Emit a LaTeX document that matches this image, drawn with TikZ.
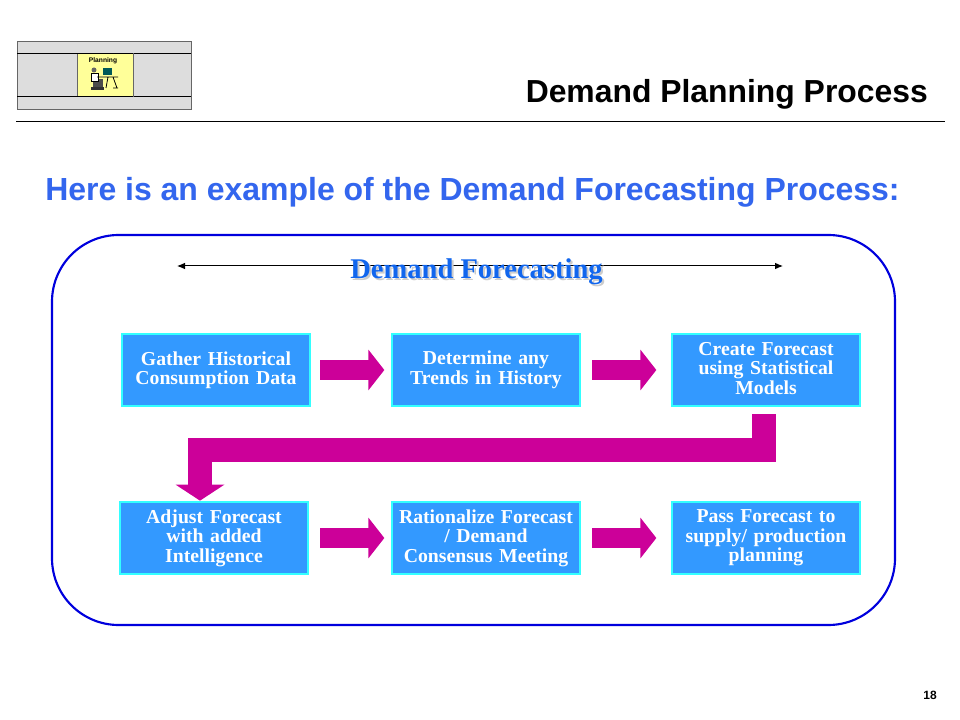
\documentclass[tikz,border=0pt]{standalone}
\usepackage{fontspec}
\setmainfont{Liberation Serif}
\setsansfont{Liberation Sans}
\usetikzlibrary{arrows.meta}
\definecolor{boxblue}{HTML}{3399FF}
\definecolor{boxcyan}{HTML}{33FFFF}
\definecolor{flowpink}{HTML}{CC0099}
\definecolor{headblue}{HTML}{3366EE}
\definecolor{spanblue}{HTML}{1166EE}
\definecolor{frameblue}{HTML}{0000DD}
\definecolor{panelgray}{HTML}{DDDDDD}
\definecolor{iconyellow}{HTML}{FFFF99}
\begin{document}
\begin{tikzpicture}[x=0.75pt,y=-0.75pt,
stepbox/.style={shape=rectangle,draw=boxcyan,fill=boxblue,line width=1.5pt,text=white,font=\fontsize{14.8}{14.6}\selectfont\bfseries,align=center,inner sep=0pt,minimum width=141pt,minimum height=54.5pt,text width=137pt},
flow/.style={draw=flowpink,line width=15pt,-{Triangle[length=12pt,width=30pt]}},
flowbig/.style={draw=flowpink,line width=18pt,miter limit=10,-{Triangle[length=12pt,width=36pt]}},
title/.style={font=\sffamily\bfseries\fontsize{23.9}{26}\selectfont,inner sep=0pt,anchor=base west},
panel/.style={draw=black!60,fill=panelgray,line width=0.7pt},
spanlabel/.style={font=\fontsize{21.4}{24}\selectfont\bfseries,inner sep=0pt}]
\def\rowa{370};
\def\rowb{538};
\def\cola{216};
\def\colb{486};
\def\colc{766};

\useasboundingbox (0,0) rectangle (960,720);
\fill[white] (0,0) rectangle (960,720);

\draw[panel] (17,41) rectangle (191,109);
\draw[line width=0.6pt] (17,53) -- (191,53);
\draw[line width=0.6pt] (17,96) -- (191,96);
\draw[draw=black!60,fill=iconyellow,line width=0.7pt] (77,53) rectangle (133,96);
\draw[line width=0.6pt] (77,53) -- (133,53) (77,96) -- (133,96);
\node[inner sep=0pt,font=\sffamily\bfseries\fontsize{5}{6}\selectfont] (icontext) at (103,60.5) {Planning};
\fill[black!70] (93,79) rectangle (103,89);
\fill[black!80] (91,87) -- (104,87) -- (104,90) -- (91,90) -- cycle;
\draw[black,fill=white,line width=0.4pt] (91,73) rectangle (98,81);
\fill[black!60] (94,70) circle (2.5);
\fill[teal!70!black] (103,68) rectangle (112,75);
\draw[black,line width=0.6pt] (97,77) -- (118,77) (113,77) -- (117,88) (113,88) -- (118,88) (108,77) -- (106,88);

\node[title] (pagetitle) at (525.5,103) {Demand Planning Process};
\coordinate (rulea) at (16,121.5);
\coordinate (ruleb) at (945,121.5);
\draw[line width=0.75pt] (rulea) -- (ruleb);
\node[title,text=headblue,font=\sffamily\bfseries\fontsize{23.97}{26}\selectfont] (subtitle) at (45,201) {Here is an example of the Demand Forecasting Process:};

\draw[frameblue,line width=1.6pt,rounded corners=50pt] (52,235) rectangle (895,625);

\coordinate (spanl) at (177,266);
\coordinate (spanr) at (783,266);
\draw[{Latex[length=6pt,width=5pt]}-{Latex[length=6pt,width=5pt]},line width=0.75pt] (spanl) -- (spanr);
\node[spanlabel,text=black!20] (spanshadow) at (478.5,274) {Demand Forecasting};
\node[spanlabel,text=spanblue] (spantext) at (476.5,272) {Demand Forecasting};

\node[stepbox] (gather) at (\cola,\rowa) {Gather Historical\\Consumption Data};
\node[stepbox] (trends) at (\colb,\rowa) {Determine any\\Trends in History};
\node[stepbox] (create) at (\colc,\rowa) {Create Forecast\\using Statistical\\Models\rule[-3pt]{0pt}{3pt}};
\node[stepbox] (adjust) at (214,\rowb) {Adjust Forecast\\with added\\Intelligence};
\node[stepbox] (ration) at (\colb,\rowb) {Rationalize Forecast\\/ Demand\\Consensus Meeting};
\node[stepbox] (pass) at (\colc,\rowb) {Pass Forecast to\\supply/ production\\planning};

\draw[flow,shorten <=6.75pt,shorten >=5pt] (gather) -- (trends);
\draw[flow,shorten <=8.25pt,shorten >=11pt] (trends) -- (create);
\draw[flow,shorten <=8.25pt,shorten >=5pt] (adjust) -- (ration);
\draw[flow,shorten <=8.25pt,shorten >=11pt] (ration) -- (pass);
\draw[flowbig,shorten <=5pt] ([xshift=-1.5pt]create.south) |- (200,450) -- (adjust.north -| 200,450);

\node[font=\sffamily\bfseries\fontsize{9}{10}\selectfont,inner sep=0pt] (pagenum) at (930,695) {18};
\end{tikzpicture}
\end{document}
